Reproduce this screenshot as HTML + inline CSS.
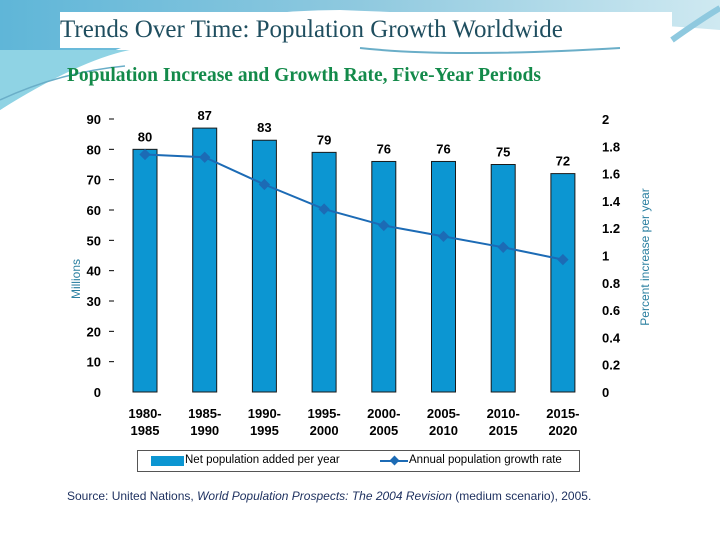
<!DOCTYPE html>
<html><head><meta charset="utf-8"><style>
body{margin:0;width:720px;height:540px;overflow:hidden;background:#fff;position:relative;font-family:"Liberation Sans",sans-serif}
.abs{position:absolute}
</style></head><body>
<svg class="abs" style="left:0;top:0" width="720" height="540">
<defs><linearGradient id="g1" x1="0" y1="0" x2="1" y2="0"><stop offset="0" stop-color="#5fb6d8"/><stop offset="0.5" stop-color="#8fc9df"/><stop offset="1" stop-color="#cfe9f1"/></linearGradient></defs>
<path d="M0 0 H720 V30 Q600 20 340 10 Q150 10 0 110 Z" fill="url(#g1)"/>
<path d="M0 110 Q80 60 130 50 L0 50 Z" fill="#8fd3e4"/>
<rect x="60" y="12" width="612" height="36" fill="#fff"/>
<path d="M0 100 Q60 72 125 66" stroke="#6aaec8" stroke-width="1.5" fill="none"/>
<path d="M360 48 Q450 58 620 48" stroke="#6aaec8" stroke-width="2" fill="none"/>
<path d="M672 40 Q700 20 720 8" stroke="#8fc9df" stroke-width="6" fill="none"/>
</svg>
<div class="abs" style="left:60px;top:16px;font-family:'Liberation Serif',serif;font-size:25px;color:#1f4e5f">Trends Over Time: Population Growth Worldwide</div>
<div class="abs" style="left:67px;top:65px;font-family:'Liberation Serif',serif;font-weight:bold;font-size:19.5px;color:#138a4a">Population Increase and Growth Rate, Five-Year Periods</div>
<svg id="chart" class="abs" style="left:0;top:0" width="720" height="540"></svg>
<script>
const categories=[["1980-","1985"],["1985-","1990"],["1990-","1995"],["1995-","2000"],["2000-","2005"],["2005-","2010"],["2010-","2015"],["2015-","2020"]];
const netAdded=[80,87,83,79,76,76,75,72];
const growthRate=[1.74,1.72,1.52,1.34,1.22,1.14,1.06,0.97];
const leftTicks=[0,10,20,30,40,50,60,70,80,90];
const rightTicks=[0,0.2,0.4,0.6,0.8,1,1.2,1.4,1.6,1.8,2];
const svg=document.getElementById('chart');const NS='http://www.w3.org/2000/svg';
const y0=392,y1=119;
const yL=v=>y0-(v/90)*(y0-y1);
const yR=v=>y0-(v/2)*(y0-y1);
const xC=i=>145+i*59.7;
function mk(t,a,txt){const e=document.createElementNS(NS,t);for(const k in a)e.setAttribute(k,a[k]);if(txt!==undefined)e.textContent=txt;svg.appendChild(e);return e;}
leftTicks.forEach(v=>{
const t=mk('text',{x:101,y:yL(v)+5,'text-anchor':'end','font-size':13,'font-weight':'bold',fill:'#000'},String(v));


if(v>0){const l=mk('line',{x1:109,x2:114,y1:yL(v),y2:yL(v),stroke:'#000'});

}
});
rightTicks.forEach(v=>{
const t=mk('text',{x:602,y:yR(v)+5,'font-size':13,'font-weight':'bold',fill:'#000'},String(v));


});
netAdded.forEach((v,i)=>{
const r=mk('rect',{x:xC(i)-12,y:yL(v),width:24,height:y0-yL(v),fill:'#0c96d2',stroke:'#1a1a1a','stroke-width':1});


const t=mk('text',{x:xC(i),y:yL(v)-8,'text-anchor':'middle','font-size':13,'font-weight':'bold'},String(v));


const c=mk('text',{x:xC(i),y:418,'text-anchor':'middle','font-size':13,'font-weight':'bold'});


categories[i].forEach((s,j)=>{const ts=document.createElementNS(NS,'tspan');ts.setAttribute('x',xC(i));ts.setAttribute('dy',j?17:0);ts.textContent=s;c.appendChild(ts);});
});
const p=mk('polyline',{points:growthRate.map((v,i)=>xC(i)+','+yR(v)).join(' '),fill:'none',stroke:'#1c6bb5','stroke-width':2});


growthRate.forEach((v,i)=>{
const d=mk('rect',{x:xC(i)-4,y:yR(v)-4,width:8,height:8,fill:'#1c6bb5',transform:`rotate(45 ${xC(i)} ${yR(v)})`});


});
</script>
<div class="abs" style="left:46px;top:272px;transform:rotate(-90deg);transform-origin:center;width:60px;text-align:center;font-size:12px;color:#2a7fa0">Millions</div>
<div class="abs" style="left:550px;top:250px;transform:rotate(-90deg);width:190px;text-align:center;font-size:12px;color:#2a7fa0">Percent increase per year</div>
<div class="abs" style="left:137px;top:450px;width:441px;height:20px;border:1px solid #555;font-size:11.5px">
<div class="abs" style="left:13px;top:5px;width:33px;height:10px;background:#0c96d2"></div>
<div class="abs" style="left:47px;top:3px">Net population added per year</div>
<svg class="abs" style="left:242px;top:4px" width="28" height="12"><line x1="0" y1="6" x2="28" y2="6" stroke="#1c6bb5" stroke-width="2"/><rect x="11" y="2" width="7" height="7" fill="#1c6bb5" transform="rotate(45 14.5 5.5)"/></svg>
<div class="abs" style="left:271px;top:3px">Annual population growth rate</div>
</div>
<div class="abs" style="left:67px;top:489px;font-size:12px;color:#1c2f5e">Source: United Nations, <i>World Population Prospects: The 2004 Revision</i> (medium scenario), 2005.</div>
</body></html>
